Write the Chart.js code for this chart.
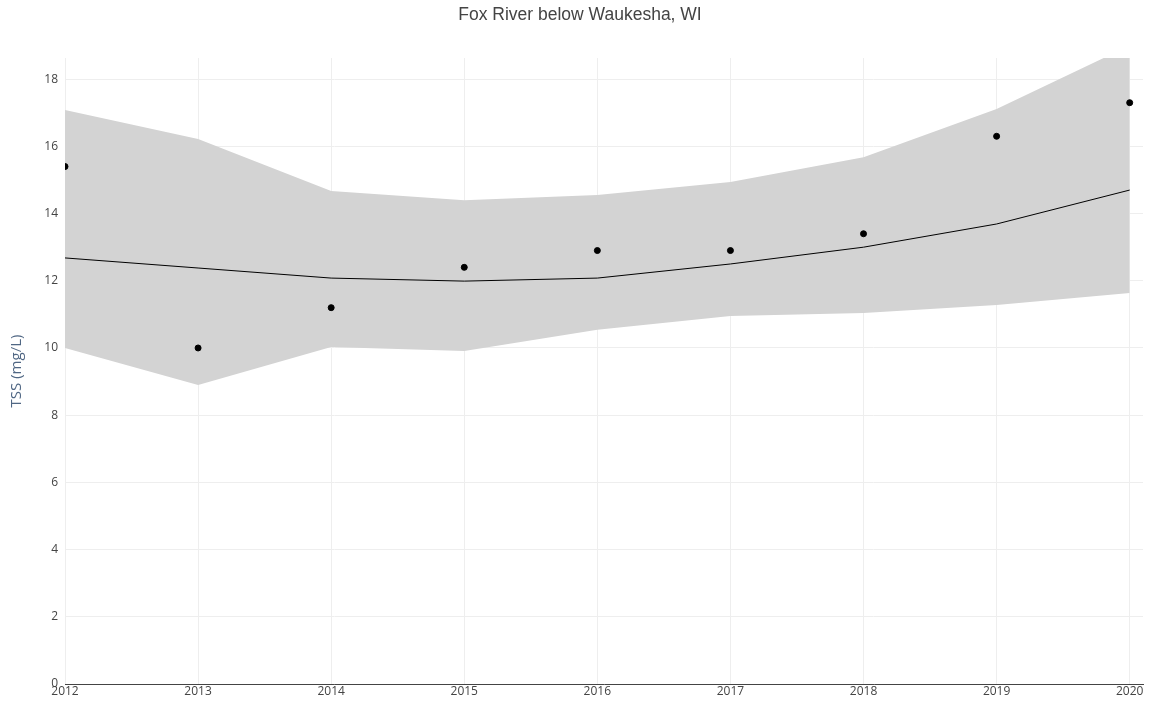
<!DOCTYPE html>
<html>
<head>
<meta charset="utf-8">
<script src="https://cdn.jsdelivr.net/npm/chart.js@4.4.1/dist/chart.umd.min.js"></script>
<style>
  html, body { margin: 0; padding: 0; background: #fff; }
  #wrap { width: 1149px; height: 704px; }
</style>
</head>
<body>
<div id="wrap"><canvas id="chart"></canvas></div>
<script>
// -------------------- DATA -------------------
let Years = [2012, 2013, 2014, 2015, 2016, 2017, 2018, 2019, 2020];
let Observed = [15.4, 10.0, 11.2, 12.4, 12.9, 12.9, 13.4, 16.3, 17.3];
let Trend = [12.68, 12.38, 12.08, 11.99, 12.08, 12.5, 13.0, 13.69, 14.7];
let Upper = [17.08, 16.22, 14.67, 14.4, 14.55, 14.94, 15.68, 17.11, 19.0];
let Lower = [10.0, 8.9, 10.03, 9.91, 10.54, 10.95, 11.04, 11.28, 11.64];

let YTicks = [0, 2, 4, 6, 8, 10, 12, 14, 16, 18];
let ChartTitle = 'Fox River below Waukesha, WI';

// -------------------- HELPERS -------------------
function ToPoints(values) {
  return Years.map((yr, i) => ({ x: yr, y: values[i] }));
}

const TickFont = { family: "'Open Sans', sans-serif", size: 12 };

// title drawn centred on the page like the original, not on the chart box
const PageTitle = {
  id: 'pageTitle',
  afterDraw(chart) {
    let ctx = chart.ctx;
    ctx.save();
    ctx.font = "17.5px 'Liberation Sans', Arial, sans-serif";
    ctx.fillStyle = '#444';
    ctx.textAlign = 'center';
    ctx.textBaseline = 'middle';
    ctx.fillText(ChartTitle, 580, 15);
    ctx.restore();
  }
};

// -------------------- CHART -------------------
let canvas = document.getElementById('chart');

let TssChart = new Chart(canvas, {
  type: 'line',
  data: {
    datasets: [
      {
        label: 'Observed',
        type: 'scatter',
        data: ToPoints(Observed),
        backgroundColor: '#000',
        borderColor: '#000',
        pointRadius: 3,
        order: 0
      },
      {
        label: 'Trend',
        data: ToPoints(Trend),
        borderColor: '#000',
        borderWidth: 1,
        pointRadius: 0,
        fill: false,
        tension: 0,
        order: 1
      },
      {
        label: 'Upper',
        data: ToPoints(Upper),
        borderWidth: 0,
        borderColor: 'rgba(0,0,0,0)',
        backgroundColor: 'rgb(211,211,211)',
        pointRadius: 0,
        fill: '+1',
        order: 2
      },
      {
        label: 'Lower',
        data: ToPoints(Lower),
        borderWidth: 0,
        borderColor: 'rgba(0,0,0,0)',
        pointRadius: 0,
        fill: false,
        order: 3
      }
    ]
  },
  plugins: [PageTitle],
  options: {
    responsive: true,
    maintainAspectRatio: false,
    animation: false,
    layout: { padding: { left: 0, right: 6, top: 58, bottom: 0 } },
    plugins: {
      legend: { display: false },
      tooltip: { enabled: false },
      title: { display: false }
    },
    scales: {
      x: {
        type: 'linear',
        min: 2012,
        max: 2020.1,
        afterBuildTicks: scale => {
          scale.ticks = Years.map(v => ({ value: v }));
        },
        afterFit: scale => { scale.height = 20; },
        ticks: {
          color: '#444',
          font: TickFont,
          padding: 0,
          maxRotation: 0,
          callback: v => String(v)
        },
        grid: { color: '#eeeeee', drawTicks: false },
        border: { display: true, color: '#444', width: 1 }
      },
      y: {
        type: 'linear',
        min: 0,
        max: 18.63,
        afterBuildTicks: scale => {
          scale.ticks = YTicks.map(v => ({ value: v }));
        },
        afterFit: scale => { scale.width = 65; },
        ticks: {
          color: '#444',
          font: TickFont,
          padding: 7
        },
        grid: { color: '#eeeeee', drawTicks: false },
        border: { display: false },
        title: {
          display: true,
          text: 'TSS (mg/L)',
          color: '#506784',
          font: { family: "'Open Sans', sans-serif", size: 15 },
          padding: { top: 8, bottom: 0 }
        }
      }
    }
  }
});
</script>
</body>
</html>
